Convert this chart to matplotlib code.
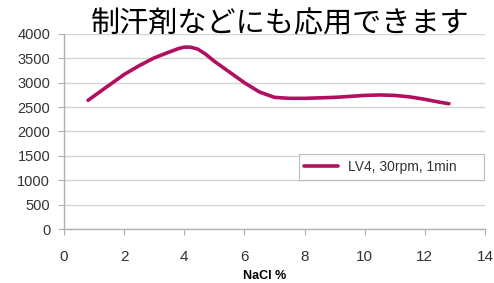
import matplotlib
matplotlib.use("Agg")
import matplotlib.pyplot as plt

# Data
nacl = [0.8, 1.5, 2.0, 2.5, 3.0, 3.5, 3.8, 4.0, 4.2, 4.45, 4.7, 5.0, 5.5, 6.0, 6.5,
        7.0, 7.5, 8.0, 9.0, 10.0, 10.5, 11.0, 11.5, 12.0, 12.5, 12.8]
viscosity = [2640, 2950, 3170, 3350, 3510, 3630, 3700, 3730, 3730, 3690, 3590, 3440,
             3220, 3000, 2810, 2700, 2680, 2680, 2700, 2740, 2750, 2740, 2710, 2660,
             2600, 2570]
series_label = "LV4, 30rpm, 1min"
x_ticks = [0, 2, 4, 6, 8, 10, 12, 14]
y_ticks = [0, 500, 1000, 1500, 2000, 2500, 3000, 3500, 4000]
title = "制汗剤などにも応用できます"
xlabel = "NaCl %"

plt.rcParams['font.family'] = ['Liberation Sans', 'DejaVu Sans']

fig = plt.figure(figsize=(4.94, 2.83), dpi=100)
ax = fig.add_axes([0.1296, 0.1908, 0.8522, 0.6891])

ax.plot(nacl, viscosity, color="#B0105F", lw=2.6, label=series_label,
        solid_capstyle="round", solid_joinstyle="round")

ax.set_xlim(0, 14)
ax.set_ylim(0, 4000)
ax.set_xticks(x_ticks)
ax.set_yticks(y_ticks)
ax.yaxis.grid(True, color="#d4d4d4", lw=1)
ax.set_axisbelow(True)
for s in ["top", "right"]:
    ax.spines[s].set_visible(False)
for s in ["left", "bottom"]:
    ax.spines[s].set_color("#b0b0b0")
    ax.spines[s].set_linewidth(1)
ax.tick_params(axis="x", direction="out", length=4, color="#b0b0b0", pad=11,
               labelsize=11, labelcolor="#333333")
ax.tick_params(axis="y", direction="out", length=4, color="#b0b0b0", pad=6,
               labelsize=10.5, labelcolor="#333333")
ax.set_xlabel(xlabel, fontsize=9, fontweight="bold")
ax.xaxis.set_label_coords(0.476, -0.21)

leg = ax.legend(loc="center", bbox_to_anchor=(0.558, 0.2615, 0.4394, 0.1128),
                mode="expand", borderaxespad=0, frameon=True,
                fancybox=False, edgecolor="#b0b0b0", fontsize=10,
                handlelength=2.4, borderpad=0.4, handletextpad=0.7)
leg.get_frame().set_linewidth(0.8)
for t in leg.get_texts():
    t.set_color("#333333")

fig.text(0.567, 0.915, title, ha="center", va="center", fontsize=21,
         family=['Noto Sans CJK JP', 'DejaVu Sans'], color="black")

fig.savefig("out.png", dpi=100)
